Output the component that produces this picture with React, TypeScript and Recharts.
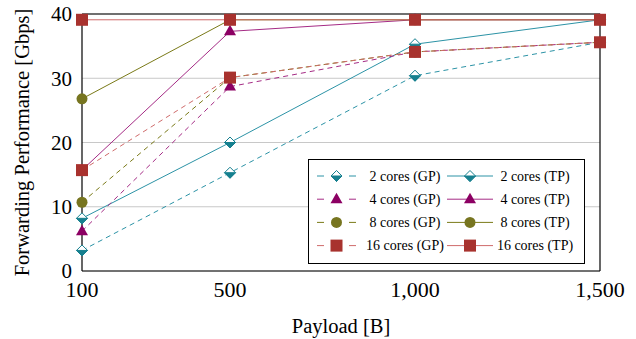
import React from 'react'
import { LineChart, Line, XAxis, YAxis, CartesianGrid, ReferenceLine } from 'recharts'

// payload sizes [B]
const payloads = [100, 500, 1000, 1500]
const yTicks = [0, 10, 20, 30, 40]

// forwarding performance [Gbps], GP = dashed, TP = solid
const gp2 = [3.2, 15.3, 30.4, 35.6]
const tp2 = [8.2, 20.0, 35.3, 39.1]
const gp4 = [6.2, 28.7, 34.1, 35.6]
const tp4 = [15.7, 37.3, 39.1, 39.1]
const gp8 = [10.7, 30.1, 34.1, 35.6]
const tp8 = [26.8, 39.1, 39.1, 39.1]
const gp16 = [15.7, 30.1, 34.1, 35.6]
const tp16 = [39.1, 39.1, 39.1, 39.1]

const data = payloads.map((x, i) => ({
  x,
  gp2: gp2[i], tp2: tp2[i], gp4: gp4[i], tp4: tp4[i],
  gp8: gp8[i], tp8: tp8[i], gp16: gp16[i], tp16: tp16[i],
}))

const FONT = 'Liberation Serif'

type Shape = 'diamond' | 'triangle' | 'circle' | 'square'

const series: { key: string; name: string; line: string; mark: string; dashed: boolean; shape: Shape }[] = [
  { key: 'gp2', name: '2 cores (GP)', line: '#2c93a6', mark: '#16808f', dashed: true, shape: 'diamond' },
  { key: 'tp2', name: '2 cores (TP)', line: '#2c93a6', mark: '#16808f', dashed: false, shape: 'diamond' },
  { key: 'gp4', name: '4 cores (GP)', line: '#a52b85', mark: '#8c0063', dashed: true, shape: 'triangle' },
  { key: 'tp4', name: '4 cores (TP)', line: '#a52b85', mark: '#8c0063', dashed: false, shape: 'triangle' },
  { key: 'gp8', name: '8 cores (GP)', line: '#7a7a18', mark: '#777520', dashed: true, shape: 'circle' },
  { key: 'tp8', name: '8 cores (TP)', line: '#7a7a18', mark: '#777520', dashed: false, shape: 'circle' },
  { key: 'gp16', name: '16 cores (GP)', line: '#cf6b6b', mark: '#a8322e', dashed: true, shape: 'square' },
  { key: 'tp16', name: '16 cores (TP)', line: '#cf6b6b', mark: '#a8322e', dashed: false, shape: 'square' },
]

function Marker({ cx, cy, shape, color }: { cx: number; cy: number; shape: Shape; color: string }) {
  if (cx == null || cy == null) return null
  const r = 5.5
  if (shape === 'diamond') {
    return (
      <g>
        <polygon points={`${cx},${cy - r} ${cx + r},${cy} ${cx},${cy + r} ${cx - r},${cy}`} fill="#fff" stroke={color} strokeWidth={1} />
        <polygon points={`${cx - r},${cy} ${cx + r},${cy} ${cx},${cy + r}`} fill={color} stroke={color} strokeWidth={1} />
      </g>
    )
  }
  if (shape === 'triangle') {
    return <polygon points={`${cx},${cy - 6.5} ${cx + 6},${cy + 4} ${cx - 6},${cy + 4}`} fill={color} />
  }
  if (shape === 'circle') return <circle cx={cx} cy={cy} r={5.5} fill={color} />
  return <rect x={cx - 6} y={cy - 6} width={12} height={12} fill={color} />
}

function LegendBox() {
  const rowY = (i: number) => 16 + i * 23.2
  return (
    <div style={{ position: 'absolute', left: 308, top: 159, width: 277, height: 105, border: '1px solid #000',
      background: '#fff', boxSizing: 'border-box', zIndex: 2 }}>
      <svg width={275} height={103} style={{ display: 'block' }}>
        {series.map((s, i) => {
          const row = Math.floor(i / 2)
          const col = i % 2
          const y = rowY(row)
          const x0 = col === 0 ? 8 : 138
          const x1 = col === 0 ? 47 : 184
          const mx = (x0 + x1) / 2
          const tx = col === 0 ? 96 : 226
          return (
            <g key={s.key}>
              <line x1={x0} x2={x1} y1={y} y2={y} stroke={s.line} strokeWidth={1}
                strokeDasharray={s.dashed ? '7 25' : undefined} />
              <Marker cx={mx} cy={y} shape={s.shape} color={s.mark} />
              <text x={tx} y={y} textAnchor="middle" dominantBaseline="central" style={{ fontFamily: FONT, fontSize: 14 }} fill="#000">
                {s.name}
              </text>
            </g>
          )
        })}
      </svg>
    </div>
  )
}

export default function App() {
  return (
    <div style={{ position: 'absolute', left: 0, top: 0, width: 636, height: 339, background: '#fff', fontFamily: FONT }}>
      <LineChart width={636} height={339} data={data} margin={{ top: 14, right: 36, bottom: 0, left: 0 }}
        style={{ fontFamily: FONT }}>
        <CartesianGrid vertical={false} stroke="#c8c8c8" strokeWidth={1} />
        <XAxis dataKey="x" type="number" domain={[100, 1500]} ticks={payloads}
          tickFormatter={(v: number) => v.toLocaleString('en-US')}
          axisLine={{ stroke: '#000', strokeWidth: 1.2 }} tickLine={false} tickSize={0} tickMargin={10} height={68}
          tick={{ fontSize: 22, fill: '#000', style: { fontFamily: FONT } }}
          label={{ value: 'Payload [B]', position: 'insideBottom', offset: 6, style: { fontFamily: FONT, fontSize: 20.5, fill: '#000' } }} />
        <XAxis xAxisId="b" dataKey="x" type="number" domain={[100, 1500]} ticks={[500, 1000]} mirror
          tick={false} tickSize={8} axisLine={false} tickLine={{ stroke: '#888' }} height={1} />
        <YAxis domain={[0, 40]} ticks={yTicks} width={82}
          axisLine={{ stroke: '#000', strokeWidth: 1.2 }} tickLine={false} tickSize={0} tickMargin={10}
          tick={{ fontSize: 21, fill: '#000', style: { fontFamily: FONT } }}
          label={{ value: 'Forwarding Performance [Gbps]', angle: -90, position: 'insideLeft', offset: 22,
            style: { textAnchor: 'middle', fontFamily: FONT, fontSize: 20.5, fill: '#000' } }} />
        <YAxis yAxisId="l" domain={[0, 40]} ticks={[10, 20, 30]} mirror orientation="left"
          tick={false} tickSize={9} axisLine={false} tickLine={{ stroke: '#888' }} width={1} />
        <YAxis yAxisId="r" domain={[0, 40]} ticks={[10, 20, 30]} mirror orientation="right"
          tick={false} tickSize={9} axisLine={{ stroke: '#000', strokeWidth: 1.2 }} tickLine={{ stroke: '#888' }} width={1} />
        <ReferenceLine y={40} stroke="#4a4a4a" strokeWidth={1.5} />
        {series.map(s => (
          <Line key={s.key} dataKey={s.key} name={s.name} type="linear" stroke={s.line} strokeWidth={1}
            strokeDasharray={s.dashed ? '5 4' : undefined} isAnimationActive={false}
            dot={(p: any) => <Marker key={`${s.key}-${p.index}`} cx={p.cx} cy={p.cy} shape={s.shape} color={s.mark} />}
            activeDot={false} />
        ))}
      </LineChart>
      <LegendBox />
    </div>
  )
}
